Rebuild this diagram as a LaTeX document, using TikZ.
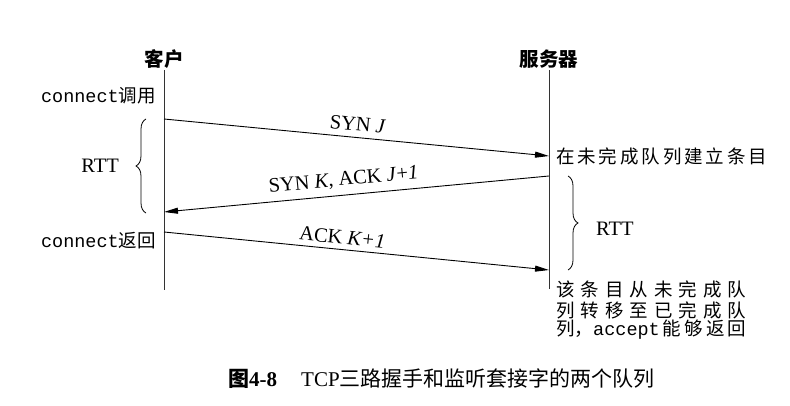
\documentclass[tikz,border=0pt]{standalone}
\usepackage{fontspec}
\setmainfont{Liberation Serif}
\setmonofont{Liberation Mono}
\newfontfamily\cjk{Noto Sans CJK SC}
\usetikzlibrary{arrows.meta,decorations.pathreplacing}
\tikzset{
  life/.style={line width=1pt, black!80},
  msg/.style={line width=0.9pt, -{Triangle[length=14pt,width=6pt]}},
  msgl/.style={line width=0.9pt, {Triangle[length=14pt,width=6pt]}-},
  lbl/.style={font=\fontsize{20.5}{24}\selectfont, inner sep=0pt},
  head/.style={font=\fontsize{19.5}{22}\selectfont\cjk\bfseries, inner sep=0pt},
  txt/.style={font=\fontsize{18.5}{22}\selectfont, inner sep=0pt},
  brc/.style={decorate, decoration={brace, amplitude=10pt}, line width=0.8pt},
}
\begin{document}
\begin{tikzpicture}[x=1pt,y=1pt]
\useasboundingbox (0,0) rectangle (790,-406);
% heads
\node[head] (cli) at (164,-59) {客户};
\node[head] (srv) at (549,-59) {服务器};
% lifelines
\coordinate (ctop) at (164,-70);
\coordinate (cbot) at (164,-290);
\coordinate (stop) at (549,-70);
\coordinate (sbot) at (549,-289);
\draw[life] (ctop) -- (cbot);
\draw[life] (stop) -- (sbot);
% message points
\coordinate (c1) at (164,-119);
\coordinate (s1) at (549,-156);
\coordinate (s2) at (549,-176);
\coordinate (c2) at (164,-212);
\coordinate (c3) at (164,-232);
\coordinate (s3) at (549,-270);
\draw[msg] (c1) -- node[lbl, sloped, above=6pt, pos=0.5] (m1) {SYN \textit{J}} (s1);
\draw[msgl] (c2) -- node[lbl, sloped, above=6pt, pos=0.47] (m2) {SYN \textit{K}, ACK \textit{J}+\textit{1}} (s2);
\draw[msg] (c3) -- node[lbl, sloped, above=5pt, pos=0.46] (m3) {ACK \textit{K+1}} (s3);
% left side labels
\node[txt, anchor=east] (call) at (156,-96) {{\ttfamily connect}{\cjk 调用}};
\node[txt, anchor=east] (ret) at (156,-241) {{\ttfamily connect}{\cjk 返回}};
% braces
\coordinate (lb1) at (146,-213);
\coordinate (lb2) at (146,-119);
\draw[brc] (lb1) -- (lb2);
\node[lbl, anchor=east] (rtt1) at (119,-166) {RTT};
\coordinate (rb1) at (568,-176);
\coordinate (rb2) at (568,-270);
\draw[brc] (rb1) -- (rb2);
\node[lbl, anchor=west] (rtt2) at (596,-229) {RTT};
% server texts
\node[txt, anchor=west] (q1) at (556,-156) {\cjk\makebox[211pt][s]{在\hfill 未\hfill 完\hfill 成\hfill 队\hfill 列\hfill 建\hfill 立\hfill 条\hfill 目}};
\node[txt, anchor=west] (q2) at (556,-289) {\cjk\makebox[190pt][s]{该\hfill 条\hfill 目\hfill 从\hfill 未\hfill 完\hfill 成\hfill 队}};
\node[txt, anchor=west] (q3) at (556,-310) {\cjk\makebox[190pt][s]{列\hfill 转\hfill 移\hfill 至\hfill 已\hfill 完\hfill 成\hfill 队}};
\node[txt, anchor=west] (q4) at (556,-330) {\makebox[190pt][s]{{\cjk 列，}{\ttfamily accept}\hfill{\cjk 能}\hfill{\cjk 够}\hfill{\cjk 返}\hfill{\cjk 回}}};
% caption
\node[font=\fontsize{21}{24}\selectfont, inner sep=0pt, anchor=west] (cap) at (228,-379) {{\cjk\bfseries 图}\textbf{4-8}\hspace{24pt}TCP{\cjk 三路握手和监听套接字的两个队列}};
\end{tikzpicture}
\end{document}
